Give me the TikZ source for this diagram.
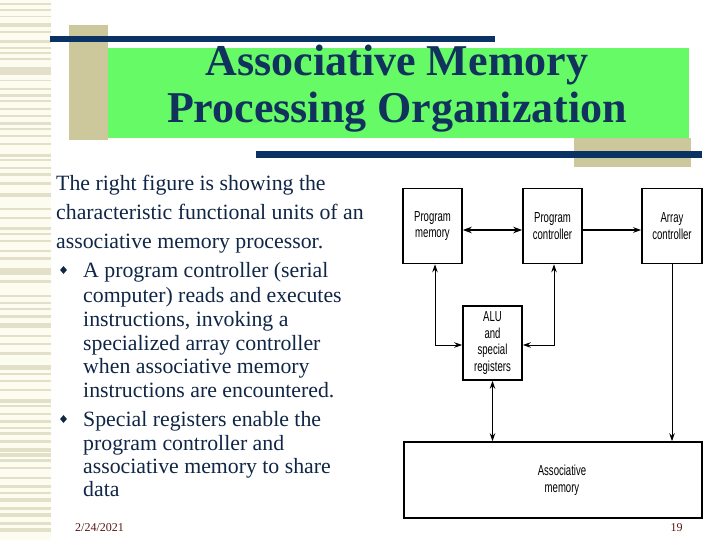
\documentclass[tikz,border=0pt]{standalone}
\usepackage{fontspec}
\setmainfont{Liberation Serif}
\newfontfamily\diagfont[FakeStretch=0.66]{Liberation Sans}
\usetikzlibrary{arrows.meta,shapes.geometric}
\definecolor{stripebg}{RGB}{253,252,240}
\definecolor{stripe}{RGB}{226,224,200}
\definecolor{tan}{RGB}{204,200,155}
\definecolor{titlegreen}{RGB}{102,250,102}
\definecolor{barblue}{RGB}{10,50,100}
\definecolor{titleblue}{RGB}{16,50,92}
\definecolor{textnavy}{RGB}{16,38,70}
\definecolor{footred}{RGB}{90,24,24}
\tikzset{
  blockbox/.style={draw=black, line width=1.6pt, fill=white, inner sep=0pt, align=center,
    font=\diagfont\fontsize{14.5}{16.5}\selectfont},
  bodyline/.style={anchor=base west, inner sep=0pt, text=textnavy, font=\fontsize{21.8}{24}\selectfont},
  titleline/.style={anchor=base, inner sep=0pt, text=titleblue, font=\bfseries\fontsize{44}{48}\selectfont},
  footer/.style={anchor=base, inner sep=0pt, text=footred, font=\fontsize{12}{14}\selectfont},
  bulletmark/.style={diamond, fill=textnavy, inner sep=0pt, minimum width=7pt, minimum height=8pt},
  link/.style={line width=1pt, {Stealth[length=8pt,width=5.5pt]}-{Stealth[length=8pt,width=5.5pt]}},
  thicklink/.style={line width=1.8pt, {Stealth[length=9pt,width=6.5pt]}-{Stealth[length=9pt,width=6.5pt]}},
  onelink/.style={line width=1pt, -{Stealth[length=8pt,width=5.5pt]}},
}
\begin{document}
\begin{tikzpicture}[x=1pt,y=-1pt]
\useasboundingbox (0,0) rectangle (720,540);
\fill[white] (0,0) rectangle (720,540);
% left stripes
\fill[stripebg] (0,0) rectangle (51,540);
\foreach \a/\b in {3/5,9/11,16/17.5,23/27,31/33,40/43,47/49,52/54,58/60,67/75,80/81.5,88/90,94/97,100/102,108/110,115/117,122/125,128/130,135/137,143/145,154/157,159/161,167/169,173/176,
  182/185,193/197,208/210,217/219,227/230,233/235,240/242,250/252,257/260,268/275,280/283,295/297,302/304,308/310,315/318,323/328,335/337,343/345,352/355,
  365/370,373/375,380/382,389/391,399/403,404.5/407,413/415,420/423,427/428.5,432/435,440/443,448/452,453/457,458.5/462,467/468.5,477/478.5,485/488,492/493.5,498/502,507/510,513/517,522/525,528/532}
  \fill[stripe] (0,\a) rectangle (51,\b);
% title decoration
\fill[tan] (69,25) rectangle (108,140);
\fill[barblue] (50,36) rectangle (495,42);
\fill[titlegreen] (108,48) rectangle (689,138);
\fill[tan] (574,138) rectangle (691,167);
\fill[barblue] (256,151) rectangle (702,158);
\node[titleline] (t1) at (397,76) {Associative Memory};
\node[titleline] (t2) at (397,123) {Processing Organization};
% body text
\node[bodyline] (l1) at (56,191) {The right figure is showing the};
\node[bodyline] (l2) at (56,219) {characteristic functional units of an};
\node[bodyline] (l3) at (56,248) {associative memory processor.};
\node[bulletmark] (b1) at (63.5,270) {};
\node[bodyline] (l4) at (83,277) {A program controller (serial};
\node[bodyline] (l5) at (83,302) {computer) reads and executes};
\node[bodyline] (l6) at (83,326) {instructions, invoking a};
\node[bodyline] (l7) at (83,350) {specialized array controller};
\node[bodyline] (l8) at (83,373) {when associative memory};
\node[bodyline] (l9) at (83,397) {instructions are encountered.};
\node[bulletmark] (b2) at (63.5,419) {};
\node[bodyline] (l10) at (83,426) {Special registers enable the};
\node[bodyline] (l11) at (83,450) {program controller and};
\node[bodyline] (l12) at (83,473) {associative memory to share};
\node[bodyline] (l13) at (83,496) {data};
% footer
\node[footer] (date) at (99.5,531) {2/24/2021};
\node[footer] (page) at (676.5,531) {19};
% diagram
\node[blockbox, minimum width=59pt, minimum height=75pt] (PM) at (432.5,226) {Program\\memory};
\node[blockbox, minimum width=59pt, minimum height=75pt] (PC) at (552.5,226) {Program\\controller};
\node[blockbox, minimum width=60pt, minimum height=75pt] (AC) at (672,226) {Array\\controller};
\node[blockbox, minimum width=59pt, minimum height=74pt] (ALU) at (492.5,343) {ALU\\and\\special\\registers};
\node[blockbox, minimum width=298pt, minimum height=76pt] (AM) at (553,480) {};
\node[inner sep=0pt, align=center, font=\diagfont\fontsize{14.5}{16.5}\selectfont] (AMt) at (562,480) {Associative\\memory};
\coordinate (pmd) at ([xshift=2.5pt]PM.south);
\coordinate (pcd) at ([xshift=1.5pt]PC.south);
\coordinate (alul) at ([yshift=-2pt]ALU.west);
\coordinate (alur) at ([yshift=-2pt]ALU.east);
\draw[thicklink] ([yshift=-4pt]PM.east) -- ([yshift=-4pt]PC.west);
\draw[onelink, line width=1.4pt] ([yshift=-4pt]PC.east) -- ([yshift=-4pt]AC.west);
\draw[link] (pmd) |- (alul);
\draw[link] (pcd) |- (alur);
\draw[link] (ALU.south) -- (ALU.south |- AM.north);
\draw[onelink] (AC.south) -- (AC.south |- AM.north);
\end{tikzpicture}
\end{document}
